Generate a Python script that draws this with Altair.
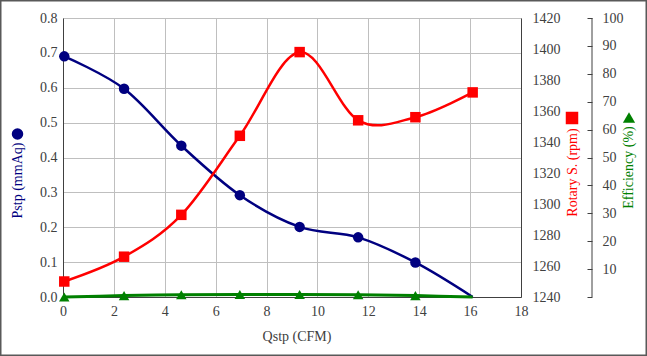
import altair as alt
import pandas as pd

# ---- data ----
qstp = [0.05, 2.4, 4.65, 6.95, 9.3, 11.6, 13.85, 16.1]
pstp = [0.69, 0.597, 0.434, 0.292, 0.201, 0.171, 0.099, 0.0]
rpm = [1250, 1266, 1293, 1344, 1398, 1354, 1356, 1372]
eff = [0.0, 0.5, 0.8, 0.9, 0.9, 0.8, 0.5, 0.0]
has_marker_p = [1, 1, 1, 1, 1, 1, 1, 0]
has_marker_e = [1, 1, 1, 1, 1, 1, 1, 0]

x_ticks = [0, 2, 4, 6, 8, 10, 12, 14, 16, 18]
p_ticks = [0.0, 0.1, 0.2, 0.3, 0.4, 0.5, 0.6, 0.7, 0.8]
rpm_ticks = [1240, 1260, 1280, 1300, 1320, 1340, 1360, 1380, 1400, 1420]
eff_ticks = [0, 10, 20, 30, 40, 50, 60, 70, 80, 90, 100]

x_title = "Qstp (CFM)"
p_title = "Pstp (mmAq)"
rpm_title = "Rotary S. (rpm)"
eff_title = "Efficiency (%)"

NAVY = "#000080"
RED = "#ff0000"
GREEN = "#008000"
AXC = "#404040"
GRID = "#bfbfbf"
FONT = "Liberation Serif"

W, H = 458, 279

df = pd.DataFrame({"qstp": qstp, "pstp": pstp, "rpm": rpm, "eff": eff,
                   "mp": has_marker_p, "me": has_marker_e})
one = pd.DataFrame({"a": [0]})

lab = dict(labelFont=FONT, labelFontSize=14, labelColor=AXC, labelFlush=False)

x_enc = alt.X("qstp:Q", scale=alt.Scale(domain=[0, 18], nice=False),
              axis=alt.Axis(values=x_ticks, format="d", grid=True, gridColor=GRID,
                            ticks=False, domainColor=AXC, labelPadding=7,
                            title=None, **lab))

y_p = alt.Y("pstp:Q", scale=alt.Scale(domain=[0, 0.8], nice=False),
            axis=alt.Axis(values=p_ticks, format=".1f", grid=True, gridColor=GRID,
                          ticks=False, domainColor=AXC, labelPadding=6,
                          title=None, orient="left", **lab))
y_r = alt.Y("rpm:Q", scale=alt.Scale(domain=[1240, 1420], nice=False),
            axis=alt.Axis(values=rpm_ticks, format="d", grid=False, ticks=False,
                          domainColor=AXC, labelPadding=11, title=None,
                          orient="right", **lab))
y_e = alt.Y("eff:Q", scale=alt.Scale(domain=[0, 100], nice=False),
            axis=alt.Axis(values=eff_ticks, grid=False, ticks=True, tickSize=5,
                          tickColor=AXC, domain=False, offset=66, labelPadding=10,
                          labelExpr="datum.value == 0 ? '' : datum.label",
                          title=None, orient="right", **lab))

base = alt.Chart(df)

p_layer = alt.layer(
    base.mark_line(color=NAVY, strokeWidth=2.5, interpolate="cardinal").encode(x=x_enc, y=y_p),
    base.transform_filter("datum.mp == 1").mark_point(shape="circle", filled=True, size=110,
                                                      color=NAVY, opacity=1).encode(x=x_enc, y=y_p),
)
r_layer = alt.layer(
    base.mark_line(color=RED, strokeWidth=2.5, interpolate="cardinal").encode(x=x_enc, y=y_r),
    base.mark_point(shape="square", filled=True, size=110, color=RED, opacity=1).encode(x=x_enc, y=y_r),
)
e_layer = alt.layer(
    base.mark_line(color=GREEN, strokeWidth=3, interpolate="cardinal").encode(x=x_enc, y=y_e),
    base.transform_filter("datum.me == 1").mark_point(shape="triangle-up", filled=True, size=110,
                                                      color=GREEN, opacity=1).encode(x=x_enc, y=y_e),
)

deco = alt.Chart(one)
eff_line = deco.mark_rule(color=AXC, strokeWidth=1).encode(
    x=alt.value(W + 71), y=alt.value(0), y2=alt.value(H))
border = deco.mark_rect(fill="transparent", stroke="#595959", strokeWidth=1.5).encode(
    x=alt.value(-62.25), x2=alt.value(583.25), y=alt.value(-17.25), y2=alt.value(337.25))

txt = dict(font=FONT, fontSize=14, align="center", baseline="middle")
t_x = deco.mark_text(color=AXC, **txt).encode(x=alt.value(234), y=alt.value(319), text=alt.value(x_title))
t_p = deco.mark_text(color=NAVY, angle=270, **txt).encode(x=alt.value(-45.5), y=alt.value(162.5), text=alt.value(p_title))
t_r = deco.mark_text(color=RED, angle=270, **txt).encode(x=alt.value(509.5), y=alt.value(154.5), text=alt.value(rpm_title))
t_e = deco.mark_text(color=GREEN, angle=270, **txt).encode(x=alt.value(566), y=alt.value(149.5), text=alt.value(eff_title))
s_p = deco.mark_point(shape="circle", filled=True, size=132, color=NAVY, opacity=1).encode(x=alt.value(-45.5), y=alt.value(116))
s_r = deco.mark_point(shape="square", filled=True, size=156, color=RED, opacity=1).encode(x=alt.value(509), y=alt.value(100))
s_e = deco.mark_point(shape="triangle-up", filled=True, size=150, color=GREEN, opacity=1).encode(x=alt.value(566), y=alt.value(99.5))

chart = alt.layer(
    p_layer, r_layer, e_layer, eff_line, border, t_x, t_p, t_r, t_e, s_p, s_r, s_e
).resolve_scale(y="independent").properties(
    width=W, height=H,
    padding={"left": 63, "top": 18, "right": 126, "bottom": 59},
    autosize=alt.AutoSizeParams(type="none"),
    background="white",
).configure_view(stroke=GRID).configure_axis(
    labelFont=FONT, labelFontSize=14, labelColor=AXC, labelFlush=False
).configure(font=FONT)

chart.save("out.html", embed_options={"renderer": "svg", "actions": False})
